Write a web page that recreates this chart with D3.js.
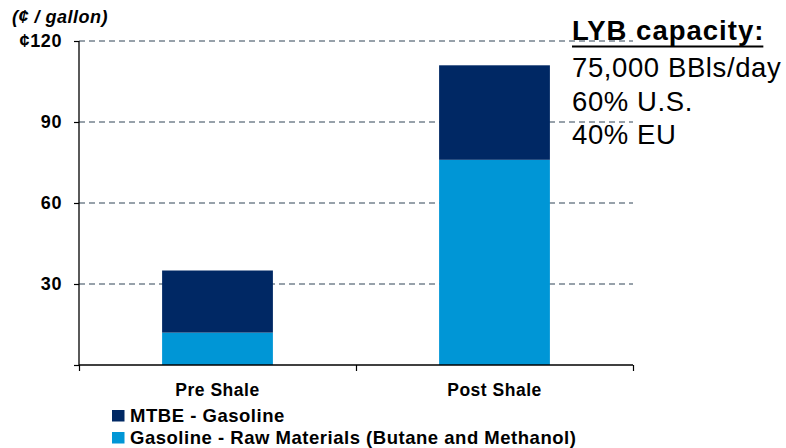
<!DOCTYPE html>
<html>
<head>
<meta charset="utf-8">
<script src="https://cdn.jsdelivr.net/npm/d3@7"></script>
<style>
  html, body { margin: 0; padding: 0; background: #fff; }
  svg { display: block; font-family: Arial, "Liberation Sans", sans-serif; }
</style>
</head>
<body>
<svg id="chart" width="786" height="448"></svg>
<script>
const categories = ["Pre Shale", "Post Shale"];
const rawMaterials = [12, 76];   // Gasoline - Raw Materials (Butane and Methanol)
const mtbeSpread = [23, 35];     // MTBE - Gasoline
const yTicks = [30, 60, 90, 120];
const yTickLabels = ["30", "60", "90", "¢120"];
const seriesNames = ["MTBE - Gasoline", "Gasoline - Raw Materials (Butane and Methanol)"];
const seriesColors = ["#002864", "#0096D6"];
const unitLabel = "(¢ / gallon)";
const noteTitle = "LYB capacity:";
const noteLines = ["75,000 BBls/day", "60% U.S.", "40% EU"];

(function () {
const svg = d3.select("#chart");
const pl = 79, pr = 633, pt = 41, pb = 365;

const x = d3.scaleBand().domain(categories).range([pl, pr]).paddingInner(0.6).paddingOuter(0.3);
const y = d3.scaleLinear().domain([0, 120]).range([pb, pt]);

// gridlines
svg.append("g").selectAll("line").data(yTicks).join("line")
  .attr("x1", pl).attr("x2", pr)
  .attr("y1", d => y(d)).attr("y2", d => y(d))
  .attr("stroke", "#76838f").attr("stroke-width", 1.5)
  .attr("stroke-dasharray", "6,4");

// stacked data
const rows = categories.map((c, i) => ({ cat: c, raw: rawMaterials[i], mtbe: mtbeSpread[i] }));
const stack = d3.stack().keys(["raw", "mtbe"])(rows);
const colorByKey = { raw: seriesColors[1], mtbe: seriesColors[0] };

svg.append("g").selectAll("g").data(stack).join("g")
  .attr("fill", d => colorByKey[d.key])
  .selectAll("rect").data(d => d).join("rect")
  .attr("x", d => x(d.data.cat))
  .attr("width", x.bandwidth())
  .attr("y", d => y(d[1]))
  .attr("height", d => y(d[0]) - y(d[1]));

// y axis
const yAxis = svg.append("g").attr("transform", `translate(${pl},0)`)
  .call(d3.axisLeft(y).tickValues([0, ...yTicks]).tickSize(5).tickFormat(""));
yAxis.select(".domain").attr("stroke", "#000").attr("stroke-width", 1.3).attr("d", `M0,${pt}V${pb}`);
yAxis.selectAll(".tick line").attr("stroke", "#000").attr("stroke-width", 1.2);

svg.append("g").selectAll("text").data(yTicks).join("text")
  .attr("x", 62).attr("y", d => y(d)).attr("dy", "0.36em")
  .attr("text-anchor", "end")
  .attr("font-size", 18).attr("font-weight", "bold").attr("letter-spacing", 0.6)
  .text((d, i) => yTickLabels[i]);

// x axis
const xEdge = d3.scaleLinear().domain([0, categories.length]).range([pl, pr]);
const xAxis = svg.append("g").attr("transform", `translate(0,${pb})`)
  .call(d3.axisBottom(xEdge).tickValues(d3.range(categories.length + 1)).tickSize(6).tickFormat(""));
xAxis.select(".domain").attr("stroke", "#000").attr("stroke-width", 1.3).attr("d", `M${pl},0H${pr}`);
xAxis.selectAll(".tick line").attr("stroke", "#000").attr("stroke-width", 1.2);

svg.append("g").selectAll("text").data(categories).join("text")
  .attr("x", d => x(d) + x.bandwidth() / 2).attr("y", 396)
  .attr("text-anchor", "middle")
  .attr("font-size", 17.5).attr("font-weight", "bold").attr("letter-spacing", 0.5)
  .text(d => d);

// unit label
svg.append("text").attr("x", 12).attr("y", 23)
  .attr("font-size", 18).attr("font-weight", "bold").attr("font-style", "italic")
  .attr("letter-spacing", 0.5)
  .text(unitLabel);

// legend
const legend = svg.append("g").selectAll("g").data(seriesNames).join("g")
  .attr("transform", (d, i) => `translate(112,${410 + i * 22})`);
legend.append("rect").attr("width", 12.5).attr("height", 11.5).attr("fill", (d, i) => seriesColors[i]);
legend.append("text").attr("x", 18).attr("y", 11.5)
  .attr("font-size", 18.5).attr("font-weight", "bold").attr("letter-spacing", 0.52)
  .text(d => d);

// note
const note = svg.append("g").attr("transform", "translate(572,0)");
const title = note.append("text").attr("x", 0).attr("y", 39.5)
  .attr("font-size", 27.5).attr("font-weight", "bold").attr("letter-spacing", 1)
  .text(noteTitle);
const tw = title.node().getComputedTextLength();
note.append("line").attr("x1", 0).attr("x2", tw - 1).attr("y1", 46.5).attr("y2", 46.5)
  .attr("stroke", "#000").attr("stroke-width", 2.2);
note.selectAll("text.line").data(noteLines).join("text").attr("class", "line")
  .attr("x", 0).attr("y", (d, i) => 77 + i * 33.5)
  .attr("font-size", 27.5).attr("letter-spacing", 0.6)
  .text(d => d);
})();
</script>
</body>
</html>
